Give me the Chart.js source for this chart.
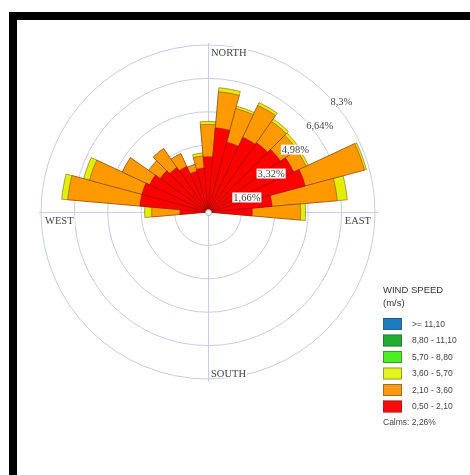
<!DOCTYPE html>
<html><head><meta charset="utf-8">
<script src="https://cdn.jsdelivr.net/npm/chart.js@4/dist/chart.umd.min.js"></script>
<style>
html,body{margin:0;padding:0;background:#fff;}
#wrap{position:relative;width:470px;height:475px;overflow:hidden;background:#fff;}
#frame{position:absolute;left:9px;top:12px;right:0;bottom:0;border-top:8px solid #000;border-left:8px solid #000;}
canvas{position:absolute;left:0;top:0;}
</style></head><body>
<div id="wrap"><div id="frame"></div><canvas id="c" width="470" height="475"></canvas></div>
<script>
// Direction sectors (degrees, clockwise from north)
const directions = [0,10,20,30,40,50,60,70,80,90,100,110,120,130,140,150,160,170,180,190,200,210,220,230,240,250,260,270,280,290,300,310,320,330,340,350];
// Frequency (%) per speed class and direction
const speed_050_210 = [2.75,4.2,3.6,4.1,4.2,4.4,4.7,5.0,3.2,2.2, 0,0,0,0,0,0,0,0,0,0,0,0,0,0,0,0,0, 1.4,3.4,3.4,3.2,2.9,2.7,2.5,2.1,2.2];
const speed_210_360 = [1.6,1.8,1.73,1.75,1.3,1.0,0.68,3.05,3.25,2.4, 0,0,0,0,0,0,0,0,0,0,0,0,0,0,0,0,0, 1.4,3.6,2.7,1.5,0.7,1.15,0.7,0.35,0.6];
const speed_360_570 = [0.15,0.2,0.12,0.15,0.15,0.15,0.12,0.1,0.5,0.25, 0,0,0,0,0,0,0,0,0,0,0,0,0,0,0,0,0, 0.35,0.3,0.3,0,0,0,0,0,0.15];
const speed_570_880 = new Array(36).fill(0);
const speed_880_1110 = new Array(36).fill(0);
const speed_1110_up = new Array(36).fill(0);

const ringValues = [1.66, 3.32, 4.98, 6.64, 8.3];
const ringLabels = ['1,66%','3,32%','4,98%','6,64%','8,3%'];
const legendTitle = ['WIND SPEED','(m/s)'];
const legendClasses = ['>= 11,10','8,80 - 11,10','5,70 - 8,80','3,60 - 5,70','2,10 - 3,60','0,50 - 2,10'];
const legendColors = ['#1a7dc2','#21ad32','#4cef22','#e4f41c','#ff9a0e','#ff0a0a'];
const calmsLabel = 'Calms: 2,26%';

const gridColor = '#c9c9ec';

// cumulative stacks for drawing (outer class drawn underneath)
const classes = [speed_050_210, speed_210_360, speed_360_570, speed_570_880, speed_880_1110, speed_1110_up];
const classColors = ['#ff0000','#ff9900','#e2f000','#4cef22','#21ad32','#1a7dc2'];
const datasets = [];
let running = new Array(36).fill(0);
classes.forEach((cls, k) => {
  running = running.map((v, i) => v + cls[i]);
  datasets.push({
    data: running.slice(),
    backgroundColor: classColors[k],
    borderColor: k === 0 ? 'rgba(140,0,0,0.55)' : 'rgba(110,50,0,0.6)',
    borderWidth: ctx => (ctx.raw > 0 ? 0.8 : 0),
    hidden: false
  });
});
// only keep datasets that add something
const drawn = datasets.filter((d, k) => classes[k].some(v => v > 0));

const decor = {
  id: 'decor',
  beforeDatasetsDraw(chart) {
    const s = chart.scales.r, ctx = chart.ctx;
    const cx = s.xCenter, cy = s.yCenter, R = s.drawingArea;
    ctx.save();
    ctx.strokeStyle = gridColor; ctx.lineWidth = 1;
    ctx.beginPath();
    ctx.moveTo(cx - R - 2, cy + 0.5); ctx.lineTo(cx + R + 3, cy + 0.5);
    ctx.moveTo(cx + 0.5, cy - R - 2); ctx.lineTo(cx + 0.5, cy + R + 2);
    ctx.stroke();
    ctx.restore();
  },
  afterDatasetsDraw(chart) {
    const s = chart.scales.r, ctx = chart.ctx;
    const cx = s.xCenter, cy = s.yCenter, R = s.drawingArea;
    ctx.save();
    // center hole
    ctx.beginPath(); ctx.arc(cx + 0.5, cy + 0.5, 3, 0, Math.PI * 2);
    ctx.fillStyle = '#fff'; ctx.fill(); ctx.strokeStyle = '#999'; ctx.lineWidth = 0.8; ctx.stroke();
    // ring labels
    ctx.font = '10.5px "Liberation Serif", serif';
    ctx.textBaseline = 'middle'; ctx.textAlign = 'left';
    ringValues.forEach((v, i) => {
      const r = s.getDistanceFromCenterForValue(v);
      const x = cx + 0.727 * r + 1;
      const y = cy - 0.716 * r + 9.4;
      const w = ctx.measureText(ringLabels[i]).width;
      ctx.fillStyle = '#fff';
      ctx.fillRect(x - 1, y - 5, w + 2, 10);
      ctx.fillStyle = '#444';
      ctx.fillText(ringLabels[i], x, y + 0.5);
    });
    // compass labels
    ctx.font = '10.5px "Liberation Serif", serif';
    ctx.textBaseline = 'top';
    const put = (t, x, y, align) => {
      ctx.textAlign = align;
      const w = ctx.measureText(t).width;
      const lx = align === 'left' ? x : x - w;
      ctx.fillStyle = '#fff';
      ctx.fillRect(lx - 1, y - 1, w + 2, 10);
      ctx.fillStyle = '#444';
      ctx.fillText(t, x, y);
    };
    put('NORTH', cx + 3, cy - R + 3, 'left');
    put('SOUTH', cx + 3, cy + R - 10, 'left');
    put('WEST', cx - R + 4, cy + 4, 'left');
    put('EAST', cx + R - 4, cy + 4, 'right');
    ctx.restore();
  },
  afterDraw(chart) {
    const ctx = chart.ctx;
    ctx.save();
    ctx.fillStyle = '#333';
    ctx.textAlign = 'left'; ctx.textBaseline = 'top';
    ctx.font = '9.5px "Liberation Sans", Arial, sans-serif';
    ctx.fillText(legendTitle[0], 383, 286);
    ctx.fillText(legendTitle[1], 383, 299);
    ctx.font = '8.5px "Liberation Sans", Arial, sans-serif';
    ctx.textBaseline = 'middle';
    legendClasses.forEach((t, i) => {
      const y = 318 + i * 16.5;
      ctx.fillStyle = legendColors[i];
      ctx.fillRect(383, y, 19, 12);
      ctx.strokeStyle = 'rgba(60,60,60,0.6)'; ctx.lineWidth = 0.8;
      ctx.strokeRect(383.5, y + 0.5, 18, 11);
      ctx.fillStyle = '#444';
      ctx.fillText(t, 412, y + 6.5);
    });
    ctx.textBaseline = 'top';
    ctx.fillText(calmsLabel, 383, 418);
    ctx.restore();
  }
};

new Chart(document.getElementById('c'), {
  type: 'polarArea',
  data: { labels: directions.map(d => d + '°'), datasets: drawn },
  options: {
    responsive: false,
    animation: false,
    devicePixelRatio: 1,
    layout: { padding: { left: 41, top: 45, right: 95, bottom: 96 } },
    plugins: { legend: { display: false }, tooltip: { enabled: false } },
    scales: {
      r: {
        startAngle: -5,
        min: 0, max: 8.3,
        afterBuildTicks: axis => { axis.ticks = [0, ...ringValues].map(v => ({ value: v })); },
        ticks: { display: false },
        grid: { circular: true, color: gridColor, lineWidth: 1 },
        angleLines: { display: false },
        pointLabels: { display: false }
      }
    }
  },
  plugins: [decor]
});
</script>
</body></html>
